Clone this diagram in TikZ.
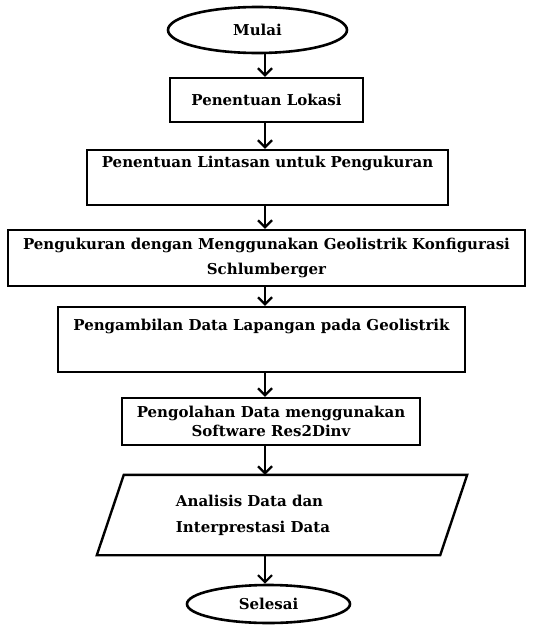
\documentclass[tikz,border=0pt]{standalone}
\usepackage{fontspec}
\setmainfont{DejaVu Serif}
\usetikzlibrary{arrows.meta,shapes.geometric}
\tikzset{
    stepbox/.style={draw, line width=2.4pt, inner sep=0pt, align=center,
        font=\bfseries\fontsize{15}{25}\selectfont},
    terminal/.style={stepbox, ellipse, line width=2.6pt},
    arr/.style={-{Straight Barb[length=7pt,width=14pt]}, line width=2.2pt},
}
\begin{document}
\begin{tikzpicture}[x=1pt,y=-1pt]
        \useasboundingbox (0,0) rectangle (535,627);
        \coordinate (axis) at (265,0);
    % steps
        \node[terminal, minimum width=179pt, minimum height=46pt] (mulai) at (257.5,30) {Mulai};
        \node[stepbox, minimum width=193pt, minimum height=44pt] (lokasi) at (266.5,100) {Penentuan Lokasi};
        \node[stepbox, minimum width=361pt, minimum height=55pt, text height=12pt, text depth=33pt] (lintasan) at (267.5,177.5) {Penentuan Lintasan untuk Pengukuran};
        \node[stepbox, minimum width=517pt, minimum height=56pt] (ukur) at (266.5,258) {Pengukuran dengan Menggunakan Geolistrik Konfigurasi\\Schlumberger};
        \node[stepbox, minimum width=407pt, minimum height=65pt, text height=12pt, text depth=31pt] (lapangan) at (261.5,339.5) {Pengambilan Data Lapangan pada Geolistrik};
        \node[stepbox, minimum width=298pt, minimum height=47pt, font=\bfseries\fontsize{15}{19}\selectfont] (olah) at (271,421.5) {Pengolahan Data menggunakan\\Software Res2Dinv};
    % data box (slanted)
        \node[minimum width=343pt, minimum height=80pt, inner sep=0pt] (analisis) at (295.5,515) {};
        \draw[line width=2.4pt, line join=miter] (analisis.north west) -- (analisis.north east)
            -- ([xshift=-27pt]analisis.south east) -- ([xshift=-27pt]analisis.south west) -- cycle;
        \node[font=\bfseries\fontsize{15}{26}\selectfont, align=left, inner sep=0pt] (analisistxt) at (253,515) {Analisis Data dan\\Interprestasi Data};
        \node[terminal, minimum width=163pt, minimum height=38pt] (selesai) at (268.5,604) {Selesai};
    % arrows
        \foreach \a/\b in {mulai/lokasi,lokasi/lintasan,lintasan/ukur,ukur/lapangan,lapangan/olah,olah/analisis,analisis/selesai}{
            \draw[arr] (\a.south -| axis) -- (\b.north -| axis);
        }
\end{tikzpicture}
\end{document}
